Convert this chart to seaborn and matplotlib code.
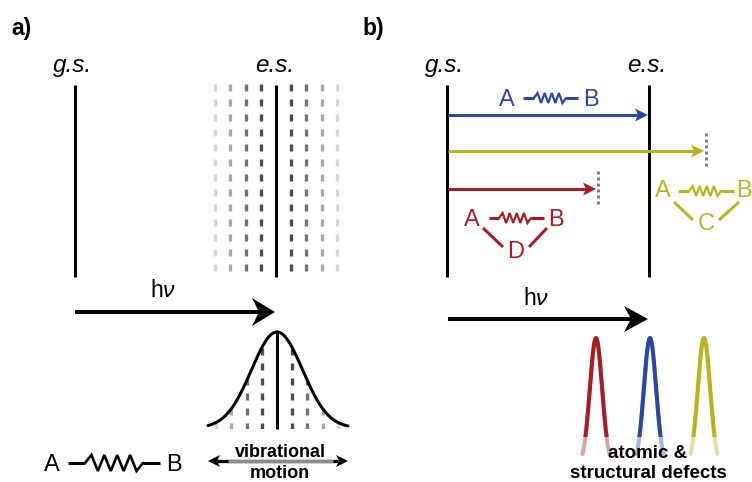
import numpy as np
import pandas as pd
import matplotlib
matplotlib.use('Agg')
import matplotlib.pyplot as plt
import seaborn as sns
from matplotlib.patches import Polygon, Rectangle

# ---------------- data ----------------
panel_labels = ['a)', 'b)']
panel_label_x = [22, 373]
state_labels = ['g.s.', 'e.s.']
state_x_a = [75, 276]
state_x_b = [447, 649]
state_label_x_a = [73, 275]
state_label_x_b = [445, 647]
state_top, state_bottom = 85, 277

vib_offsets = [-61, -46, -30, -15, 15, 30, 46, 61]
vib_grays = ['#d6d6d6', '#a9a9a9', '#727272', '#4d4d4d',
             '#4d4d4d', '#727272', '#a9a9a9', '#d6d6d6']

trans_colors = ['#2b47a6', '#b7b51e', '#a61e22']
trans_y = [115, 151, 189]
trans_end = [648, 704, 596]
trans_dotted = [False, True, True]

peak_centers = [596, 650, 704]
peak_colors = ['#a61e22', '#2b47a6', '#b7b51e']

RED, BLUE, YEL = '#a61e22', '#2b47a6', '#b7b51e'

# ---------------- style ----------------
sns.set_theme(style='white')
plt.rcParams['font.family'] = ['Liberation Sans', 'DejaVu Sans']
plt.rcParams['text.color'] = 'black'
plt.rcParams['mathtext.fontset'] = 'custom'
plt.rcParams['mathtext.rm'] = 'Liberation Sans'
plt.rcParams['mathtext.it'] = 'Liberation Sans:italic'

fig = plt.figure(figsize=(7.52, 4.82), dpi=100)
ax = fig.add_axes([0, 0, 1, 1])
ax.set_xlim(0, 752)
ax.set_ylim(482, 0)
ax.axis('off')

PX = 72 / 100.0  # points per pixel


def arrow(x0, x1, y, color, lw, hl, hw, notch, left=False):
    if not left:
        ax.plot([x0, x1 - hl + notch], [y, y], color=color, lw=lw * PX,
                solid_capstyle='butt')
        ax.add_patch(Polygon([(x1, y), (x1 - hl, y - hw), (x1 - hl + notch, y),
                              (x1 - hl, y + hw)], closed=True, fc=color, lw=0))
    else:
        ax.add_patch(Polygon([(x0, y), (x0 + hl, y - hw), (x0 + hl - notch, y),
                              (x0 + hl, y + hw)], closed=True, fc=color, lw=0))


def spring(xs, y, amp, color, lw_line, lw_zig, n=4):
    x0, x1, x2, x3 = xs
    ax.plot([x0, x1], [y, y], color=color, lw=lw_line * PX, solid_capstyle='butt')
    ax.plot([x2, x3], [y, y], color=color, lw=lw_line * PX, solid_capstyle='butt')
    zx = np.linspace(x1, x2, 2 * n + 2)
    zy = [y] + [y - amp if i % 2 == 0 else y + amp for i in range(2 * n)] + [y]
    ax.plot(zx, zy, color=color, lw=lw_zig * PX, solid_joinstyle='miter')


def dashed_vline(x, y0, y1, color, clip=None, on=7, period=15):
    starts = np.arange(y0, y1, period)
    ends = np.minimum(starts + on, y1)
    lc = ax.vlines([x] * len(starts), starts, ends, colors=color, lw=3.3 * PX)
    if clip is not None:
        lc.set_clip_path(clip)


# ---------------- panel labels ----------------
for lab, x in zip(panel_labels, panel_label_x):
    ax.text(x, 29, lab, fontsize=16.5, fontweight='bold', ha='center', va='center')

# ---------------- panel a ----------------
for lab, x, lx in zip(state_labels, state_x_a, state_label_x_a):
    ax.text(lx, 72, lab, fontsize=17.5, style='italic', ha='center', va='baseline')
    ax.plot([x, x], [state_top, state_bottom], color='black', lw=3 * PX,
            solid_capstyle='butt')

for off, g in zip(vib_offsets, vib_grays):
    dashed_vline(state_x_a[1] + off, 84, 277, g)

# h nu arrow (a)
arrow(75, 275, 312, 'black', 4, 23, 14, 7)
ax.text(163, 297, r'h$\nu$', fontsize=16.5, ha='center', va='baseline')

# gaussian envelope with vibrational levels underneath
gc, gsig, gtop, gbase = 277, 25.5, 332, 428
gx = np.linspace(208, 348, 300)
gy = gbase - (gbase - gtop) * np.exp(-(gx - gc) ** 2 / (2 * gsig ** 2))
clip_poly = Polygon(np.column_stack([np.r_[gx, 348, 208], np.r_[gy, 429, 429]]),
                    closed=True, transform=ax.transData)
for off, g in zip(vib_offsets, vib_grays):
    dashed_vline(gc + off, 333, 429, g, clip=clip_poly)
ax.plot([gc, gc], [332, 429], color='black', lw=3 * PX, solid_capstyle='butt')
sns.lineplot(x=gx, y=gy, ax=ax, color='black', lw=3 * PX, sort=False)

# vibrational motion double arrow
ax.plot([214, 342], [461, 461], color='black', lw=3.3 * PX, solid_capstyle='butt')
ax.plot([228, 333], [461, 461], color='#8c8c8c', lw=3.3 * PX, solid_capstyle='butt')
arrow(208, 348, 461, 'black', 0, 12, 6, 3)
arrow(208, 348, 461, 'black', 0, 12, 6, 3, left=True)
ax.text(280, 457, 'vibrational', fontsize=13, fontweight='bold', ha='center',
        va='baseline')
ax.text(280, 478, 'motion', fontsize=13, fontweight='bold', ha='center',
        va='baseline')

# A - spring - B
ax.text(52, 471, 'A', fontsize=17, ha='center', va='baseline')
ax.text(174, 471, 'B', fontsize=17, ha='center', va='baseline')
spring([68, 85, 143, 160], 463, 8, 'black', 3, 2.6)

# ---------------- panel b ----------------
for lab, x, lx in zip(state_labels, state_x_b, state_label_x_b):
    ax.text(lx, 72, lab, fontsize=17.5, style='italic', ha='center', va='baseline')
    ax.plot([x, x], [state_top, state_bottom], color='black', lw=3 * PX,
            solid_capstyle='butt')

for c, y, xe, dot in zip(trans_colors, trans_y, trans_end, trans_dotted):
    arrow(448, xe, y, c, 3, 13, 6.5, 3)
    if dot:
        ys = np.arange(y - 18, y + 15, 6)
        ax.vlines([xe + 2] * len(ys), ys, ys + 3, colors='#7f7f7f', lw=3 * PX)

# blue label
ax.text(507, 106, 'A', fontsize=17, color=BLUE, ha='center', va='baseline')
ax.text(591, 106, 'B', fontsize=17, color=BLUE, ha='center', va='baseline')
spring([523, 534, 566, 578], 98, 5, BLUE, 3, 2.2)

# red label with D
ax.text(472, 226, 'A', fontsize=17, color=RED, ha='center', va='baseline')
ax.text(556, 226, 'B', fontsize=17, color=RED, ha='center', va='baseline')
ax.text(516, 258, 'D', fontsize=17, color=RED, ha='center', va='baseline')
spring([489, 499, 531, 544], 218, 5, RED, 3, 2.2)
ax.plot([483, 503], [228, 247], color=RED, lw=3 * PX, solid_capstyle='butt')
ax.plot([547, 529], [228, 247], color=RED, lw=3 * PX, solid_capstyle='butt')

# yellow label with C
ax.text(663, 197, 'A', fontsize=17, color=YEL, ha='center', va='baseline')
ax.text(744, 197, 'B', fontsize=17, color=YEL, ha='center', va='baseline')
ax.text(706, 230, 'C', fontsize=17, color=YEL, ha='center', va='baseline')
spring([678, 689, 721, 734], 191, 5, YEL, 3, 2.2)
ax.plot([674, 693], [202, 220], color=YEL, lw=3 * PX, solid_capstyle='butt')
ax.plot([739, 719], [202, 220], color=YEL, lw=3 * PX, solid_capstyle='butt')

# h nu arrow (b)
arrow(448, 648, 319, 'black', 4, 24, 13, 7)
ax.text(536, 305, r'h$\nu$', fontsize=16.5, ha='center', va='baseline')

# defect peaks
for c, col in zip(peak_centers, peak_colors):
    px = np.linspace(c - 13.5, c + 13.5, 200)
    py = 465 - 127 * np.exp(-(px - c) ** 2 / (2 * 6.1 ** 2))
    sns.lineplot(x=px, y=py, ax=ax, color=col, lw=4 * PX, alpha=0.4, sort=False)
    sns.lineplot(x=px, y=py, ax=ax, color=col, lw=4 * PX, sort=False)
    ax.lines[-1].set_clip_path(Rectangle((c - 20, 300), 40, 137,
                                         transform=ax.transData))

ax.text(648, 458, 'atomic &', fontsize=13.5, fontweight='bold', ha='center',
        va='baseline')
ax.text(648, 478, 'structural defects', fontsize=13.5, fontweight='bold',
        ha='center', va='baseline')

fig.savefig('out.png', dpi=100)
